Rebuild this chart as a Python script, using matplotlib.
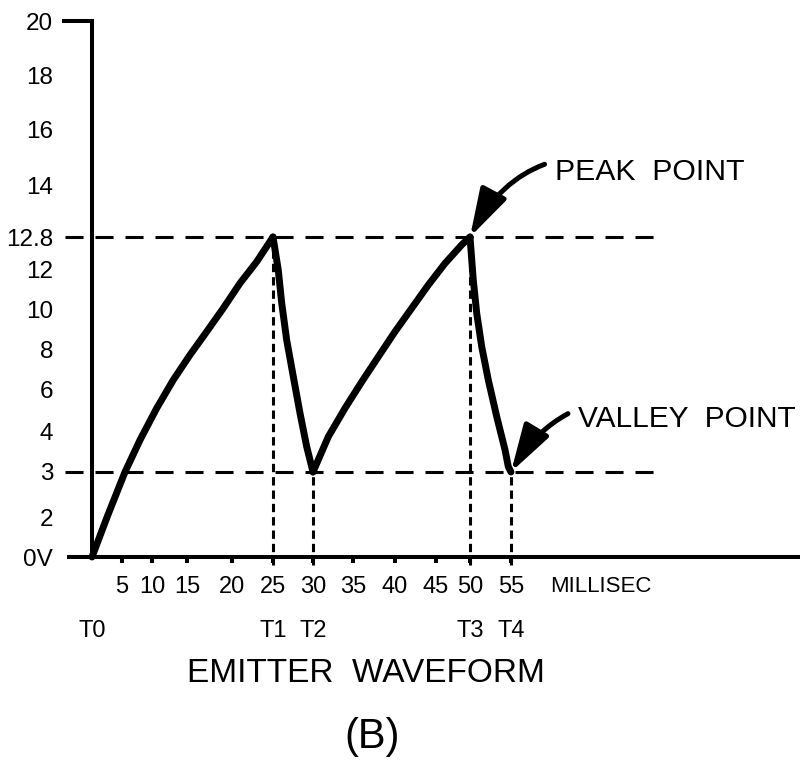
"""
Emitter waveform of a UJT relaxation oscillator, panel (B).
Axes in the original drawing are hand-spaced, so both scales are piecewise linear.
"""

import numpy as np
import matplotlib
matplotlib.use("Agg")
import matplotlib.pyplot as plt

plt.rcParams["font.family"] = ["Liberation Sans Narrow", "Liberation Sans", "DejaVu Sans"]
plt.rcParams["lines.scale_dashes"] = False

# ---- data (time in ms, voltage in V) ----
charge1_t = [0, 2.6, 5.5, 8.0, 10.67, 13.04, 15.33, 17.19, 19.03, 20.98, 23.01, 25]
charge1_v = [0, 2.05, 3.0, 3.78, 5.11, 6.49, 7.71, 8.89, 10.09, 11.34, 12.2, 12.8]
discharge1_t = [25, 25.66, 26.09, 26.71, 27.54, 28.38, 29.21, 30]
discharge1_v = [12.8, 12.0, 10.34, 8.46, 6.65, 4.86, 3.62, 3.0]
charge2_t = [30, 31.91, 34.0, 36.04, 38.01, 40.0, 42.04, 44.06, 46.32, 48.78, 50]
charge2_v = [3.0, 3.86, 5.11, 6.4, 7.62, 8.89, 10.09, 11.25, 12.16, 12.61, 12.8]
discharge2_t = [50, 50.4, 50.82, 51.43, 52.23, 53.26, 54.27, 54.67, 55]
discharge2_v = [12.8, 11.5, 9.83, 8.12, 6.49, 4.7, 3.54, 3.13, 3.0]

peak_v, valley_v = 12.8, 3.0
peak_t = [25, 50]
valley_t = [30, 55]
t_marks = [0, 25, 30, 50, 55]
t_mark_labels = ["T0", "T1", "T2", "T3", "T4"]

x_ticks = [5, 10, 15, 20, 25, 30, 35, 40, 45, 50, 55]
x_tick_labels = [str(v) for v in x_ticks]
y_ticks = [0, 2, 3, 4, 6, 8, 10, 12, 12.8, 14, 16, 18, 20]
y_tick_labels = ["0V", "2", "3", "4", "6", "8", "10", "12", "12.8", "14", "16", "18", "20"]

# ---- drawing scale of the original sketch (value -> pixel) ----
W, H = 800, 761
x_scale_pix = [92, 122, 152, 187, 232, 273, 313, 353, 395, 436, 470, 511]
y_scale_pix = [557, 518, 472, 431, 390, 349, 310, 270, 237, 186, 130, 76, 21]


def piecewise(src, dst):
    src = np.asarray(src, float)
    dst = np.asarray(dst, float)
    k0 = (dst[1] - dst[0]) / (src[1] - src[0])
    k1 = (dst[-1] - dst[-2]) / (src[-1] - src[-2])

    def f(v):
        v = np.asarray(v, float)
        out = np.interp(v, src, dst)
        out = np.where(v < src[0], dst[0] + (v - src[0]) * k0, out)
        out = np.where(v > src[-1], dst[-1] + (v - src[-1]) * k1, out)
        return out
    return f


x_vals = [0] + x_ticks
fx = piecewise(x_vals, x_scale_pix)
ix = piecewise(x_scale_pix, x_vals)
y_up = [H - p for p in y_scale_pix]
fy = piecewise(y_ticks, y_up)
iy = piecewise(y_up, y_ticks)

fig = plt.figure(figsize=(W / 100, H / 100), dpi=100)
ax = fig.add_axes([0, 0, 1, 1])
ax.set_xscale("function", functions=(fx, ix))
ax.set_yscale("function", functions=(fy, iy))
xmax = float(ix(W))
ax.set_xlim(float(ix(0)), xmax)
ax.set_ylim(float(iy(0)), float(iy(H)))

AX_LW = 2.9
for side in ("top", "right"):
    ax.spines[side].set_visible(False)
ax.spines["left"].set_position(("data", 0))
ax.spines["left"].set_bounds(0, 20)
ax.spines["bottom"].set_position(("data", 0))
ax.spines["bottom"].set_bounds(-4.2, xmax)
for side in ("left", "bottom"):
    ax.spines[side].set_linewidth(AX_LW)
    ax.spines[side].set_capstyle("butt")
ax.plot([-4.7, 0], [20, 20], color="black", lw=AX_LW, solid_capstyle="projecting")

ax.set_yticks(y_ticks, y_tick_labels)
ax.tick_params(axis="y", length=0, pad=28, labelsize=17.5)
ax.set_xticks(x_ticks, x_tick_labels)
ax.set_xticks([66], ["MILLISEC"], minor=True)
ax.tick_params(axis="x", which="major", direction="out", length=4.3, width=AX_LW,
               pad=9.5, labelsize=17)
ax.tick_params(axis="x", which="minor", length=0, pad=13.5, labelsize=16)

# reference levels
dash_h = (0, (13, 8.6))
ax.hlines([peak_v, valley_v], -4.5, 73, colors="black", lw=2.2, linestyles=[dash_h])
dash_v = (0, (6, 3.6))
ax.vlines(peak_t, -0.4, peak_v, colors="black", lw=2.2, linestyles=[dash_v])
ax.vlines(valley_t, -0.4, valley_v, colors="black", lw=2.2, linestyles=[dash_v])

# waveform
for t, v in [(charge1_t, charge1_v), (discharge1_t, discharge1_v),
             (charge2_t, charge2_v), (discharge2_t, discharge2_v)]:
    ax.plot(t, v, color="black", lw=5, solid_capstyle="round", solid_joinstyle="round")

for t, lab in zip(t_marks, t_mark_labels):
    ax.annotate(lab, xy=(t, 0), xytext=(0, -53), textcoords="offset points",
                ha="center", va="center", fontsize=17)

arrow = dict(arrowstyle="-|>,head_length=1.35,head_width=0.4", color="black",
             lw=3.6, shrinkA=6, shrinkB=0, connectionstyle="arc3,rad=0.45")
ax.annotate("PEAK  POINT", xy=(50, peak_v), xytext=(60.4, 14.5),
            ha="left", va="center", fontsize=21.8, family="Liberation Sans",
            arrowprops=arrow)
ax.annotate("VALLEY  POINT", xy=(55, valley_v), xytext=(63.2, 4.6),
            ha="left", va="center", fontsize=21.5, family="Liberation Sans",
            arrowprops=arrow)

fig.text(0.4575, 0.1156, "EMITTER  WAVEFORM", ha="center", va="center",
         fontsize=24, family="Liberation Sans")
fig.text(0.465, 0.0315, "(B)", ha="center", va="center", fontsize=30,
         family="Liberation Sans")

fig.savefig("out.png", dpi=100)
